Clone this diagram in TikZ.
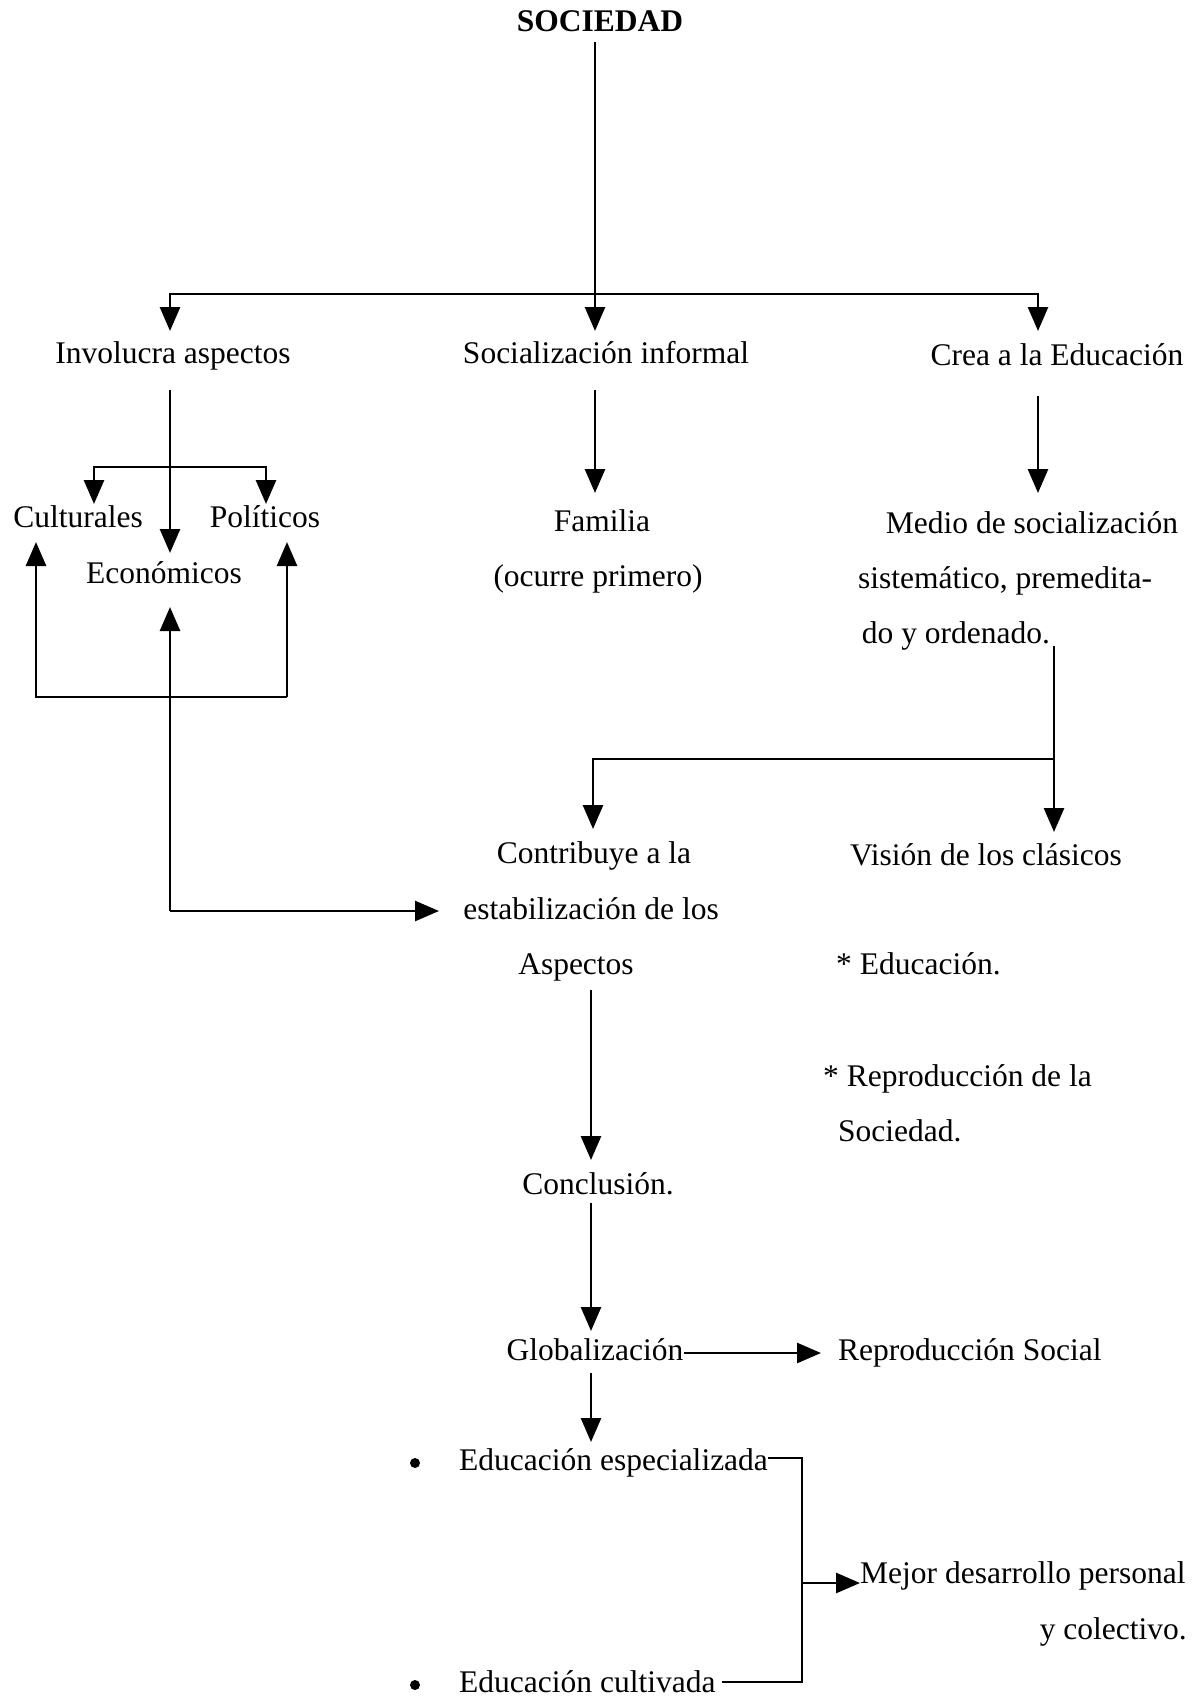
\documentclass[tikz,border=0pt]{standalone}
\usepackage{fontspec}
\setmainfont{Liberation Serif}
\usetikzlibrary{arrows.meta,calc}
\begin{document}
\begin{tikzpicture}[x=1pt,y=-1pt,
  t/.style={inner sep=0pt, anchor=base, font=\fontsize{31.5}{38}\selectfont},
  tl/.style={t, anchor=base west},
  tr/.style={t, anchor=base east},
  dot/.style={circle, fill=black, inner sep=0pt, minimum size=10pt},
  ln/.style={line width=2.7pt},
  arr/.style={ln, -{Triangle[width=20pt,length=24pt]}},
]
\useasboundingbox[fill=white] (0,0) rectangle (1197,1700);

% texts
\node[t] (soc) at (600,31) {\bfseries SOCIEDAD};
\node[t] (inv) at (173,363) {Involucra aspectos};
\node[t] (sinf) at (606,363) {Socialización informal};
\node[t] (crea) at (1057,365) {Crea a la Educación};
\node[t] (cul) at (78,527) {Culturales};
\node[t] (pol) at (265,527) {Políticos};
\node[t] (eco) at (164,583) {Económicos};
\node[t] (fam) at (602,531) {Familia};
\node[t] (ocu) at (598,586) {(ocurre primero)};
\node[t] (med1) at (1032,533) {Medio de socialización};
\node[t] (med2) at (1005,588) {sistemático, premedita-};
\node[t] (med3) at (956,643) {do y ordenado.};
\node[t] (con1) at (594,863) {Contribuye a la};
\node[t] (con2) at (591,919) {estabilización de los};
\node[t] (con3) at (576,974) {Aspectos};
\node[t] (vis) at (986,865) {Visión de los clásicos};
\node[tl] (edu) at (836,974) {* Educación.};
\node[tl] (rep1) at (823,1086) {* Reproducción de la};
\node[tl] (rep2) at (838,1141) {Sociedad.};
\node[t] (conc) at (598,1194) {Conclusión.};
\node[t] (glob) at (595,1360) {Globalización};
\node[tl] (repsoc) at (838,1360) {Reproducción Social};
\node[dot] (bul1) at (415,1463) {};
\node[tl] (esp) at (459,1470) {Educación especializada};
\node[dot] (bul2) at (415,1685) {};
\node[tl] (cult) at (459,1692) {Educación cultivada};
\node[tl] (mej) at (860,1583) {Mejor desarrollo personal};
\node[tr] (ycol) at (1187,1639) {y colectivo.};

% junctions and tips
\coordinate (tj) at (595,294);
\coordinate (tInv) at (170,331);
\coordinate (tSinf) at (595,331);
\coordinate (tCrea) at (1038,331);
\coordinate (sInv) at (170,390);
\coordinate (tEco) at (170,553);
\coordinate (bj) at (170,467);
\coordinate (tCul) at (94,504);
\coordinate (tPol) at (266,504);
\coordinate (bl) at (36,697);
\coordinate (br) at (287,697);
\coordinate (uCul) at (36,542);
\coordinate (uPol) at (287,542);
\coordinate (ec) at (170,911);
\coordinate (uEco) at (170,607);
\coordinate (tCon) at (439,911);
\coordinate (sSinf) at (595,390);
\coordinate (tFam) at (595,493);
\coordinate (sCrea) at (1038,396);
\coordinate (tMed) at (1038,493);
\coordinate (sMed) at (1054,646);
\coordinate (mj) at (1054,759);
\coordinate (tVis) at (1054,832);
\coordinate (tCon1) at (593,829);
\coordinate (sAsp) at (591,990);
\coordinate (tConc) at (591,1160);
\coordinate (sConc) at (591,1203);
\coordinate (tGlob) at (591,1331);
\coordinate (sGlob) at (591,1373);
\coordinate (tEsp) at (591,1442);
\coordinate (vTop) at (802,1458);
\coordinate (vBot) at (802,1682);
\coordinate (vMid) at (802,1583);

% connectors
\draw[arr, shorten <=10pt] (soc.south -| tj) -- (tSinf);
\draw[arr] (tj) -| (tInv);
\draw[arr] (tj) -| (tCrea);
\draw[arr] (sInv) -- (tEco);
\draw[arr] (bj) -| (tCul);
\draw[arr] (bj) -| (tPol);
\draw[arr] (br) -- (bl) -- (uCul);
\draw[arr] (br) -- (uPol);
\draw[arr] (ec) -- (uEco);
\draw[arr] (ec) -- (tCon);
\draw[arr] (sSinf) -- (tFam);
\draw[arr] (sCrea) -- (tMed);
\draw[arr] (sMed) -- (tVis);
\draw[arr] (mj) -| (tCon1);
\draw[arr] (sAsp) -- (tConc);
\draw[arr] (sConc) -- (tGlob);
\draw[arr] ($(glob.base east)+(0,-7)$) -- ($(repsoc.base west)+(-17,-7)$);
\draw[arr] (sGlob) -- (tEsp);
\draw[ln] ($(esp.base east)+(0,-12)$) -- (vTop) -- (vBot) -- ($(cult.base east)+(6,-10)$);
\draw[arr] (vMid) -- (mej.base west);
\end{tikzpicture}
\end{document}
